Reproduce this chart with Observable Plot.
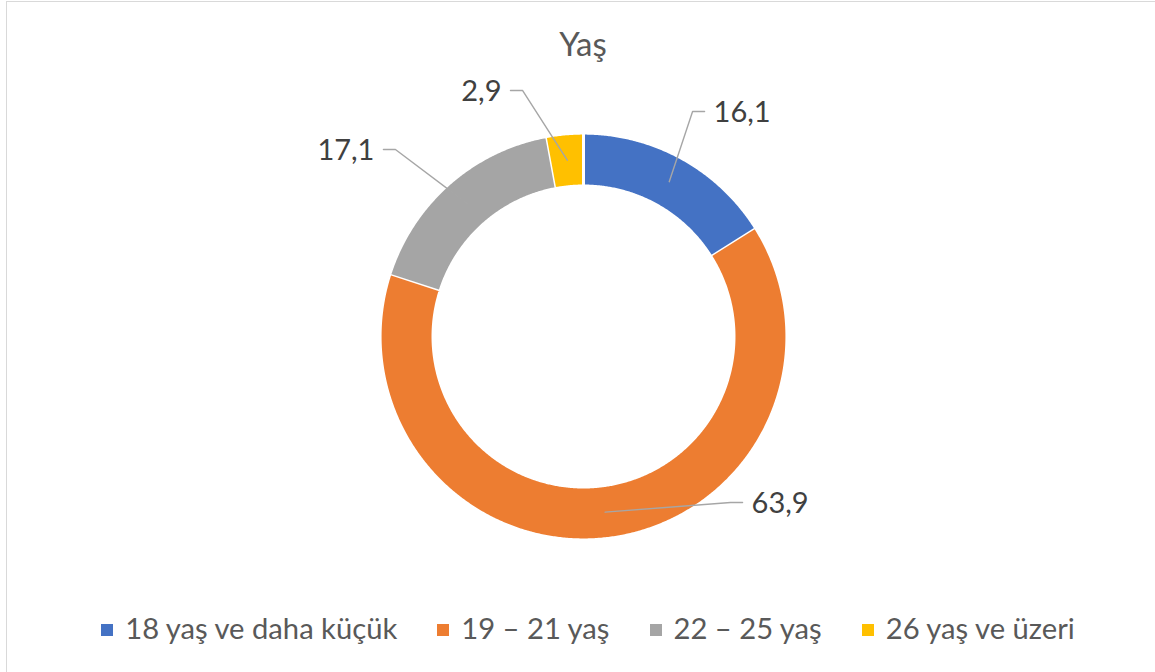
<!DOCTYPE html>
<html><head><meta charset="utf-8">
<script src="https://cdn.jsdelivr.net/npm/d3@7"></script>
<script src="https://cdn.jsdelivr.net/npm/@observablehq/plot@0.6"></script>
<style>
body{margin:0;background:#fff;}
#wrap{position:relative;width:1155px;height:672px;overflow:hidden;font-family:Lato, sans-serif;background:#fff;}
#frame{position:absolute;left:6px;top:1px;width:1300px;height:800px;border-top:1.5px solid #d9d9d9;border-left:1.5px solid #d9d9d9;}
#chart{position:absolute;left:0;top:0;}
#title{position:absolute;top:26.5px;left:0;width:1166px;text-align:center;font-size:33px;line-height:1;color:#595959;}
#legend{position:absolute;top:613px;left:0;width:1176px;display:flex;justify-content:center;gap:40px;font-size:29.2px;line-height:1;color:#595959;}
.item{display:flex;align-items:center;white-space:nowrap;}
.sw{width:12px;height:12px;margin-right:12px;margin-top:4px;}
</style>
</head><body>
<div id="wrap"><div id="frame"></div><div id="chart"></div><div id="title"></div><div id="legend"></div></div>
<script>
// ---- data ----
const titleText = "Yaş";
const categories = ["18 yaş ve daha küçük", "19 – 21 yaş", "22 – 25 yaş", "26 yaş ve üzeri"];
const values = [16.1, 63.9, 17.1, 2.9];
const valueLabels = ["16,1", "63,9", "17,1", "2,9"];
const colors = ["#4472C4", "#ED7D31", "#A5A5A5", "#FFC000"];

// ---- layout (radius units, origin at donut centre, y downward) ----
const W = 1155, H = 672, CX = 583, CY = 336, R = 202;
const labelElbows = [[0.540, -1.114, 1], [0.728, 0.822, 1], [-0.931, -0.926, -1], [-0.302, -1.218, -1]];
const rOut = 1.007, rIn = 0.745, rMid = 0.876;

const total = d3.sum(values);
const ring = [], leaders = [], labels = [];
let acc = 0;
values.forEach((v, i) => {
  const a0 = acc / total * 2 * Math.PI, a1 = (acc + v) / total * 2 * Math.PI;
  acc += v;
  const n = Math.max(2, Math.ceil((a1 - a0) / (0.4 * Math.PI / 180)));
  const cat = categories[i];
  for (let k = 0; k <= n; k++) { const a = a0 + (a1 - a0) * k / n; ring.push({cat, x: rOut * Math.sin(a), y: -rOut * Math.cos(a)}); }
  for (let k = n; k >= 0; k--) { const a = a0 + (a1 - a0) * k / n; ring.push({cat, x: rIn * Math.sin(a), y: -rIn * Math.cos(a)}); }
  const am = (a0 + a1) / 2;
  const [ex, ey, side] = labelElbows[i];
  leaders.push({cat, x: rMid * Math.sin(am), y: -rMid * Math.cos(am)});
  leaders.push({cat, x: ex, y: ey});
  leaders.push({cat, x: ex + side * 12 / R, y: ey});
  labels.push({cat, x: ex + side * 21 / R, y: ey, text: valueLabels[i], side});
});

const chart = Plot.plot({
  width: W, height: H, margin: 0,
  x: {domain: [-CX / R, (W - CX) / R], range: [0, W], axis: null},
  y: {domain: [-CY / R, (H - CY) / R], range: [0, H], axis: null},
  color: {domain: categories, range: colors},
  style: {fontFamily: "Lato, sans-serif", background: "transparent"},
  marks: [
    Plot.line(ring, {x: "x", y: "y", z: "cat", fill: "cat", stroke: "white", strokeWidth: 3, curve: "linear"}),
    Plot.line(leaders, {x: "x", y: "y", z: "cat", stroke: "#a6a6a6", strokeWidth: 1.4, curve: "linear"}),
    Plot.text(labels.filter(d => d.side > 0), {x: "x", y: "y", text: "text", textAnchor: "start", fontSize: 29, fill: "#404040", dy: 1}),
    Plot.text(labels.filter(d => d.side < 0), {x: "x", y: "y", text: "text", textAnchor: "end", fontSize: 29, fill: "#404040", dy: 1})
  ]
});
document.getElementById("chart").appendChild(chart);
document.getElementById("title").textContent = titleText;
const lg = document.getElementById("legend");
categories.forEach((c, i) => {
  const it = document.createElement("div"); it.className = "item";
  const sw = document.createElement("span"); sw.className = "sw"; sw.style.background = colors[i];
  const tx = document.createElement("span"); tx.textContent = c;
  it.appendChild(sw); it.appendChild(tx); lg.appendChild(it);
});
</script>
</body></html>
